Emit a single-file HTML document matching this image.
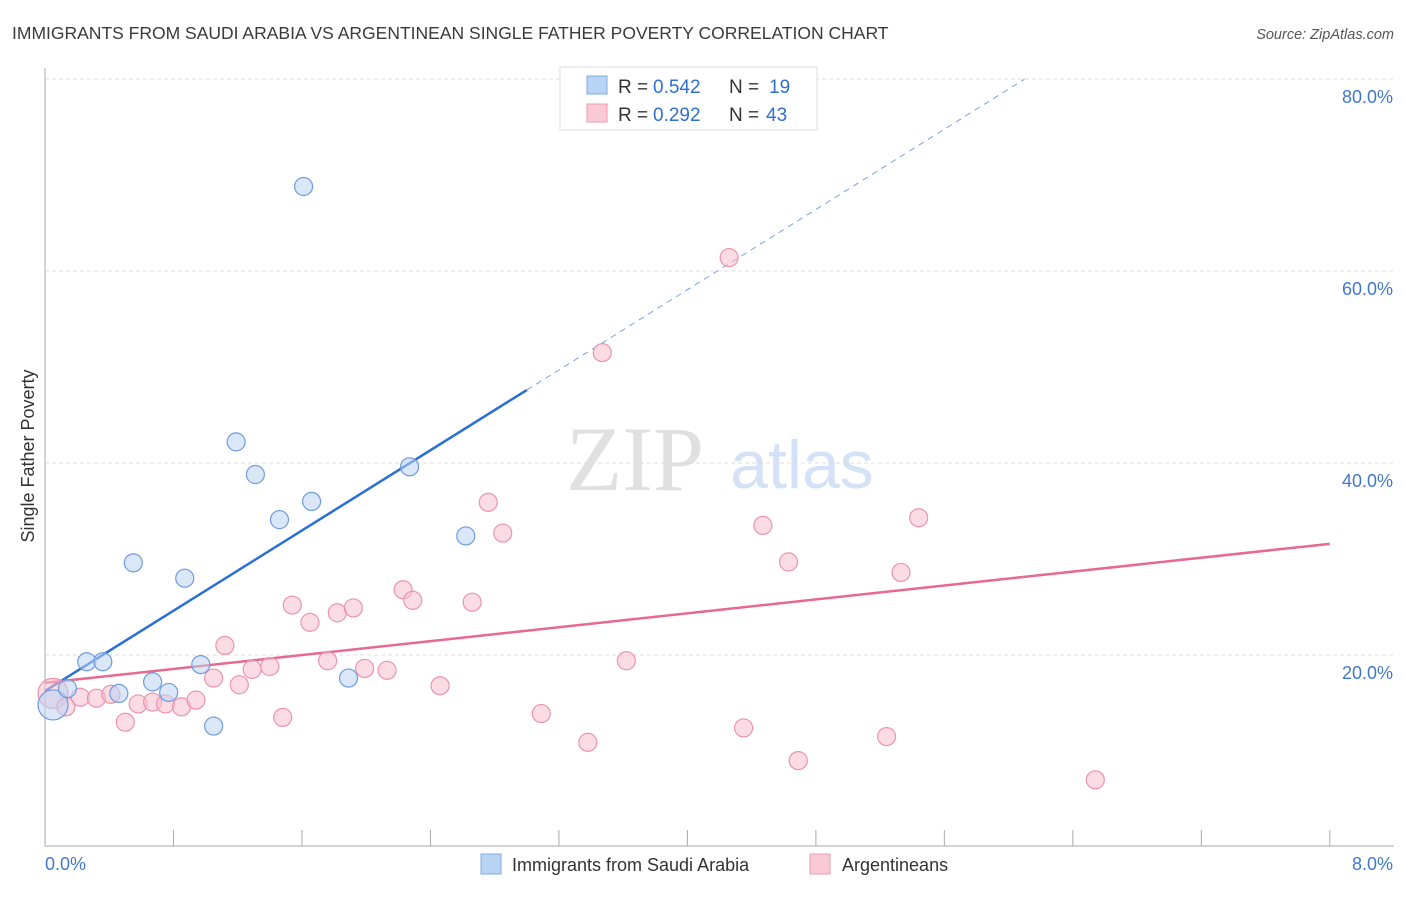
<!DOCTYPE html>
<html><head><meta charset="utf-8"><style>
body{margin:0;background:#fff;font-family:"Liberation Sans",sans-serif}
</style></head><body>
<svg id="c" width="1406" height="892" xmlns="http://www.w3.org/2000/svg" font-family="Liberation Sans, sans-serif">
<text x="12" y="39" font-size="17.5" fill="#3a3a3a">IMMIGRANTS FROM SAUDI ARABIA VS ARGENTINEAN SINGLE FATHER POVERTY CORRELATION CHART</text>
<text x="1394" y="39" font-size="14.5" fill="#555" font-style="italic" text-anchor="end">Source: ZipAtlas.com</text>
<g>
<text x="635" y="490" font-size="92" fill="#e0e0e0" style="font-family:'Liberation Serif',serif" text-anchor="middle">ZIP</text>
<text x="802" y="488" font-size="68" fill="#d3e2f6" text-anchor="middle">atlas</text>
</g>
<text transform="translate(34,456) rotate(-90)" font-size="18" fill="#333" text-anchor="middle">Single Father Poverty</text>
<g id="grid"></g><g id="axes"></g><g id="lines"></g><g id="pts"></g>
<g>
<rect x="560" y="67" width="257" height="63" fill="#fff" stroke="#ddd"/>
<rect x="587" y="76" width="20" height="18" fill="#b9d3f5" stroke="#7ea8e0"/>
<rect x="587" y="104" width="20" height="18" fill="#f9c9d6" stroke="#ef9ab2"/>
<text x="618" y="93" font-size="19" fill="#333">R =</text>
<text x="653" y="93" font-size="19" fill="#2f6fd0">0.542</text>
<text x="729" y="93" font-size="19" fill="#333">N =</text>
<text x="769" y="93" font-size="19" fill="#2f6fd0">19</text>
<text x="618" y="121" font-size="19" fill="#333">R =</text>
<text x="653" y="121" font-size="19" fill="#2f6fd0">0.292</text>
<text x="729" y="121" font-size="19" fill="#333">N =</text>
<text x="766" y="121" font-size="19" fill="#2f6fd0">43</text>
</g>
<g>
<rect x="481" y="854" width="20" height="20" fill="#b9d3f5" stroke="#7ea8e0"/>
<text x="512" y="871" font-size="18" fill="#333">Immigrants from Saudi Arabia</text>
<rect x="810" y="854" width="20" height="20" fill="#f9c9d6" stroke="#ef9ab2"/>
<text x="842" y="871" font-size="18" fill="#333">Argentineans</text>
</g>
</svg>
<script>
const blueX=[0.05,0.14,0.26,0.36,0.46,0.55,0.67,0.77,0.87,0.97,1.05,1.19,1.31,1.46,1.66,1.61,1.89,2.27,2.62];
const blueY=[14.8,16.5,19.3,19.3,16.0,29.6,17.2,16.1,28.0,19.0,12.6,42.2,38.8,34.1,36.0,68.8,17.6,39.6,32.4];
const pinkX=[0.05,0.13,0.22,0.32,0.41,0.50,0.58,0.67,0.75,0.85,0.94,1.05,1.12,1.21,1.29,1.40,1.48,1.54,1.65,1.76,1.82,1.92,1.99,2.13,2.23,2.29,2.46,2.66,2.76,2.85,3.09,3.38,3.47,3.62,4.26,4.35,4.47,4.63,4.69,5.24,5.33,5.44,6.54];
const pinkY=[16.0,14.6,15.6,15.5,15.9,13.0,14.9,15.1,14.9,14.6,15.3,17.6,21.0,16.9,18.5,18.8,13.5,25.2,23.4,19.4,24.4,24.9,18.6,18.4,26.8,25.7,16.8,25.5,35.9,32.7,13.9,10.9,51.5,19.4,61.4,12.4,33.5,29.7,9.0,11.5,28.6,34.3,7.0];
const yTicks=[20,40,60,80];
const xTickLabels=["0.0%","8.0%"];
const blueTrend=[16.25,10.45];
const pinkTrend=[17.1,1.81];
const X=v=>45+v*160.6, Y=v=>847-v*9.6;
const NS="http://www.w3.org/2000/svg";
function mk(p,t,a){const e=document.createElementNS(NS,t);for(const k in a)e.setAttribute(k,a[k]);document.getElementById(p).appendChild(e);return e;}
yTicks.forEach(t=>{
 const l=mk('grid','line',{x1:45,x2:1394,y1:Y(t),y2:Y(t),stroke:'#ddd','stroke-dasharray':'4,3'});
 
 
 const tx=mk('grid','text',{x:1393,y:Y(t)+24,'font-size':18,fill:'#3f78d0','text-anchor':'end'});
 tx.textContent=t.toFixed(1)+'%';
 
 
});
const ax=mk('axes','line',{x1:45,x2:45,y1:68,y2:846,stroke:'#aaa'});


const bx=mk('axes','line',{x1:45,x2:1394,y1:846,y2:846,stroke:'#aaa'});


for(let i=1;i<=10;i++){
 const t=mk('axes','line',{x1:X(i*0.8),x2:X(i*0.8),y1:830,y2:846,stroke:'#aaa'});
 
 
}
[[0,'start',45],[8,'end',1393]].forEach((d,i)=>{
 const t=mk('axes','text',{x:d[2],y:870,'font-size':18,fill:'#3f78d0','text-anchor':d[1]});
 t.textContent=xTickLabels[i];
 
 
});
function trend(tr,x0,x1,col,dash,name){
 const a={x1:X(x0),y1:Y(tr[0]+tr[1]*x0),x2:X(x1),y2:Y(tr[0]+tr[1]*x1),stroke:col,'stroke-width':dash?1:2.5};
 if(dash)a['stroke-dasharray']='6,5';
 const l=mk('lines','line',a);
 
 
}
trend(blueTrend,0,3.0,'#2a6fd6',false,'blue-trend-line');
trend(blueTrend,3.0,6.1,'#7aa3dd',true,'blue-trend-extension');
trend(pinkTrend,0,8,'#e8688f',false,'pink-trend-line');
function pts(xs,ys,fill,stroke,name){
 xs.forEach((x,i)=>{
  const big=i===0;
  const c=mk('pts','circle',{cx:X(x),cy:Y(ys[i]),r:big?15:9,fill:fill,'fill-opacity':0.55,stroke:stroke,'stroke-width':1.2});
  
  
 });
}
pts(pinkX,pinkY,'#f7c0cf','#ec93ad','argentineans-point');
pts(blueX,blueY,'#bcd4f4','#6f9be0','saudi-arabia-point');
</script>
</body></html>
